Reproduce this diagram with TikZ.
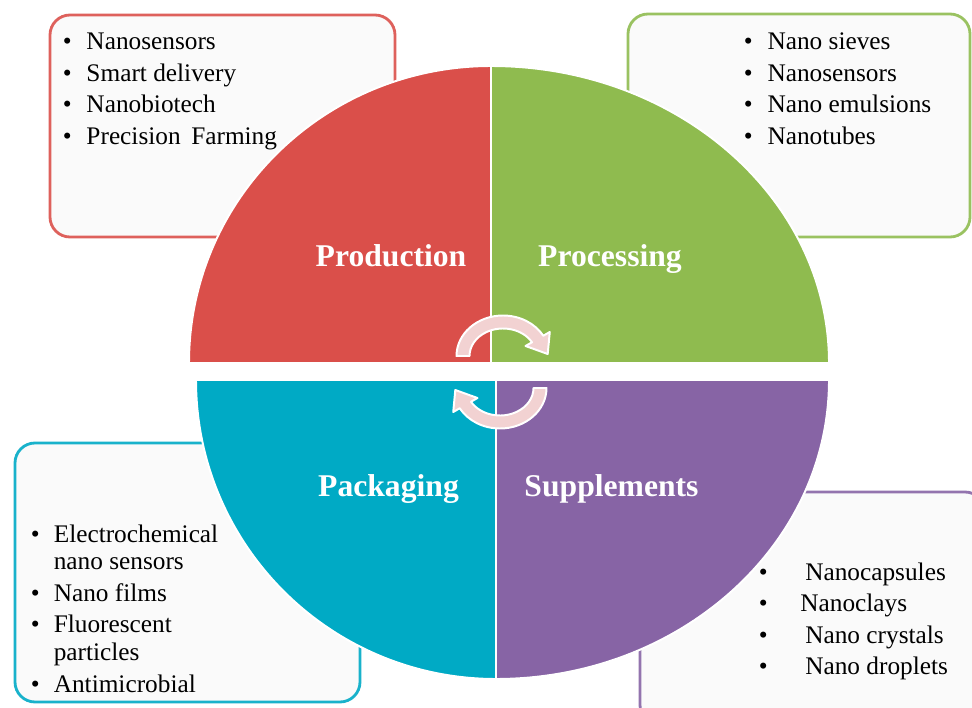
\documentclass[tikz,border=0pt]{standalone}
\usepackage{fontspec}
\setmainfont{Liberation Serif}
\definecolor{prodred}{HTML}{DA4F4A}
\definecolor{procgreen}{HTML}{8FBB4F}
\definecolor{packteal}{HTML}{00AAC5}
\definecolor{supppurple}{HTML}{8764A5}
\definecolor{boxfill}{HTML}{FAFAFA}
\definecolor{turnpink}{HTML}{F2D2D2}

\begin{document}
\begin{tikzpicture}[x=0.025cm,y=-0.025cm,
    list box/.style={rounded corners=0.5cm, line width=2pt, fill=boxfill},
    sector/.style={draw=white, line width=1.4pt},
    sector label/.style={text=white, anchor=base, inner sep=0pt, font=\fontsize{22.5}{27}\selectfont\bfseries},
    list text/.style={anchor=base west, inner sep=0pt, font=\fontsize{18}{22.4}\selectfont},
    turn arrow/.style={fill=turnpink, draw=white, line width=1.4pt, line join=round}]

    \useasboundingbox (0,0) rectangle (972,708);
    \clip (0,0) rectangle (972,708);
    \fill[white] (0,0) rectangle (972,708);

    % boxes behind the circle
    \draw[list box, draw=prodred!90!white] (50,15) rectangle (395,237);
    \draw[list box, draw=procgreen!90!white] (628,14) rectangle (970,237);
    \draw[list box, draw=packteal!90!white] (15,443) rectangle (360,702);
    \draw[list box, draw=supppurple!90!white] (640,492) rectangle (985,725);

    % four quarters
    \filldraw[sector, fill=prodred] (491,363) -- (189,363) arc[start angle=180, end angle=270, x radius=302, y radius=297] -- cycle;
    \filldraw[sector, fill=procgreen] (491,363) -- (491,66) arc[start angle=270, end angle=360, x radius=338, y radius=297] -- cycle;
    \filldraw[sector, fill=packteal] (496,380) -- (196,380) arc[start angle=180, end angle=90, x radius=300, y radius=299] -- cycle;
    \filldraw[sector, fill=supppurple] (496,380) -- (496,679) arc[start angle=90, end angle=0, x radius=333, y radius=299] -- cycle;

    \node[sector label] (prod) at (391,266.7) {Production};
    \node[sector label] (proc) at (610,266.7) {Processing};
    \node[sector label] (pack) at (388.5,496) {Packaging};
    \node[sector label] (supp) at (611.5,496) {Supplements};

    % lists
    \node[list text] (prodlist) at (62.6,50) {\begin{tabular}[t]{@{}c@{\hspace{10.5pt}}l@{}}
        \textbullet & Nanosensors\\
        \textbullet & Smart delivery\\
        \textbullet & Nanobiotech\\
        \textbullet & Precision\hspace{7.5pt}Farming
    \end{tabular}};
    \node[list text] (proclist) at (743.6,50) {\begin{tabular}[t]{@{}c@{\hspace{10.5pt}}l@{}}
        \textbullet & Nano sieves\\
        \textbullet & Nanosensors\\
        \textbullet & Nano emulsions\\
        \textbullet & Nanotubes
    \end{tabular}};
    \node[list text, font=\fontsize{18}{19.6}\selectfont] (packlist) at (30.6,542) {\begin{tabular}[t]{@{}c@{\hspace{10pt}}l@{}}
        \textbullet & Electrochemical\\
                    & nano sensors\\[2.9pt]
        \textbullet & Nano films\\[2.9pt]
        \textbullet & Fluorescent\\
                    & particles\\[2.9pt]
        \textbullet & Antimicrobial
    \end{tabular}};
    \node[list text, font=\fontsize{18}{22.5}\selectfont] (supplist) at (758.6,580) {\begin{tabular}[t]{@{}c@{\hspace{26.7pt}}l@{}}
        \textbullet & Nanocapsules\\
        \textbullet & \hspace{-3.5pt}Nanoclays\\
        \textbullet & Nano crystals\\
        \textbullet & Nano droplets
    \end{tabular}};

    % cycle arrows in the middle
    \begin{scope}[shift={(503,356)}]
        \filldraw[turn arrow] (180:46.5 and 40.5) arc[start angle=180, end angle=330, x radius=46.5, y radius=40.5]
            -- (330:54 and 48) -- (44.7,-2) -- (330:26 and 20) -- (330:33.5 and 27.5)
            arc[start angle=330, end angle=180, x radius=33.5, y radius=27.5] -- cycle;
    \end{scope}
    \begin{scope}[shift={(500,388)}]
        \filldraw[turn arrow] (0:46.5 and 40.5) arc[start angle=0, end angle=150, x radius=46.5, y radius=40.5]
            -- (150:54 and 48) -- (-44.7,2) -- (150:26 and 20) -- (150:33.5 and 27.5)
            arc[start angle=150, end angle=0, x radius=33.5, y radius=27.5] -- cycle;
    \end{scope}
\end{tikzpicture}
\end{document}
